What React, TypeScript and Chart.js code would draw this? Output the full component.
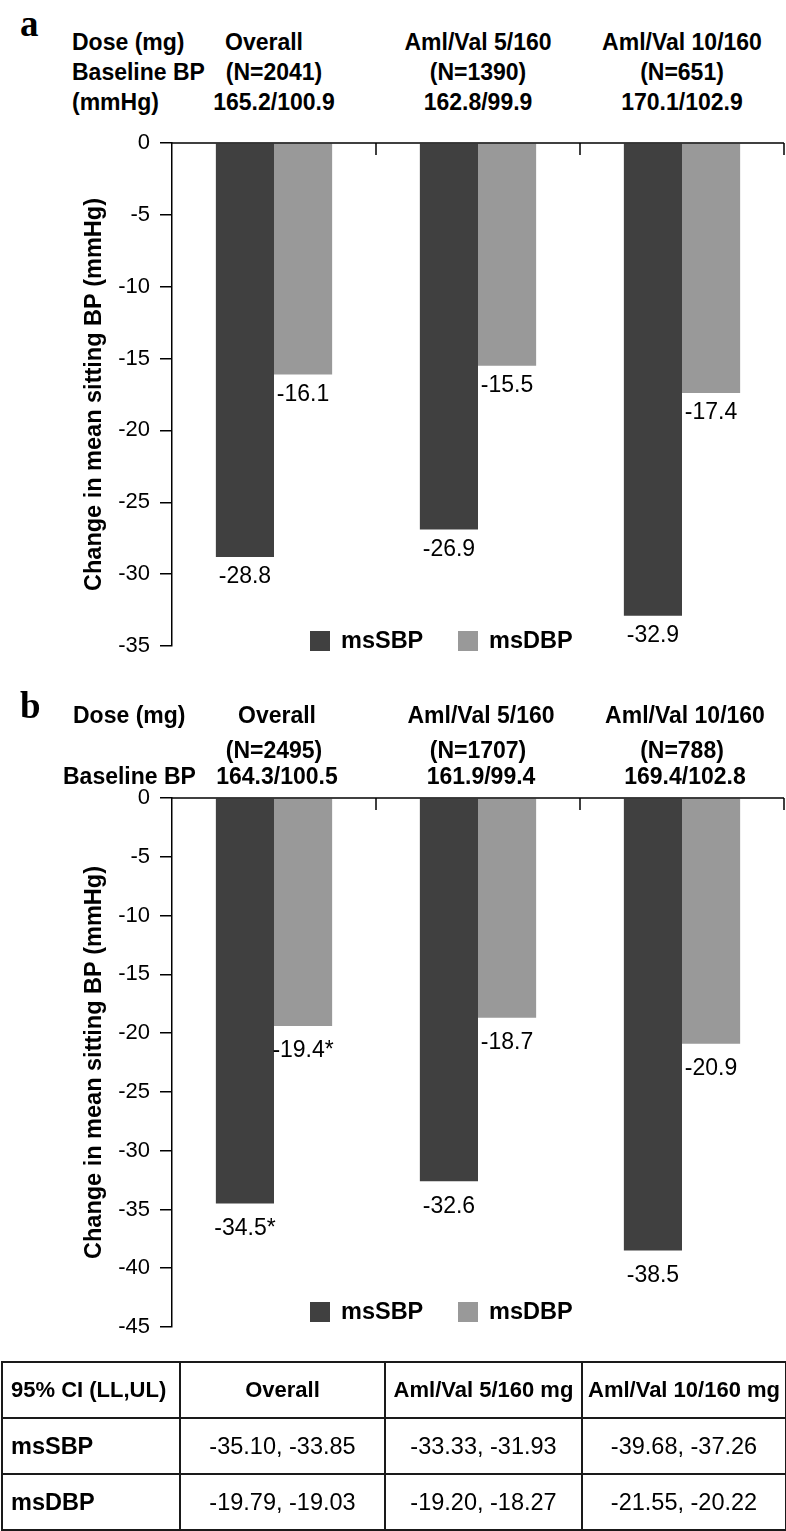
import React, { useEffect, useRef } from "react";
import { Chart, registerables } from "chart.js";

Chart.register(...registerables);

// ---------- data ----------
const categories = ["Overall", "Aml/Val 5/160", "Aml/Val 10/160"];
const seriesNames = ["msSBP", "msDBP"];
const seriesColors = ["#404040", "#999999"];

const sbpA = [-28.8, -26.9, -32.9];
const dbpA = [-16.1, -15.5, -17.4];
const sbpLabelsA = ["-28.8", "-26.9", "-32.9"];
const dbpLabelsA = ["-16.1", "-15.5", "-17.4"];
const nA = ["(N=2041)", "(N=1390)", "(N=651)"];
const baselineA = ["165.2/100.9", "162.8/99.9", "170.1/102.9"];
const yMinA = -35;

const sbpB = [-34.5, -32.6, -38.5];
const dbpB = [-19.4, -18.7, -20.9];
const sbpLabelsB = ["-34.5*", "-32.6", "-38.5"];
const dbpLabelsB = ["-19.4*", "-18.7", "-20.9"];
const nB = ["(N=2495)", "(N=1707)", "(N=788)"];
const baselineB = ["164.3/100.5", "161.9/99.4", "169.4/102.8"];
const yMinB = -45;

const yStep = 5;
const yTitle = "Change in mean sitting BP (mmHg)";

const tableHeader = ["95% CI (LL,UL)", "Overall", "Aml/Val 5/160 mg", "Aml/Val 10/160 mg"];
const ciSBP = ["-35.10, -33.85", "-33.33, -31.93", "-39.68, -37.26"];
const ciDBP = ["-19.79, -19.03", "-19.20, -18.27", "-21.55, -20.22"];

// ---------- layout ----------
const FONT = '"Liberation Sans", Arial, Helvetica, sans-serif';
const W = 786;
const PLOT_LEFT = 172;
const PLOT_RIGHT = 784;
const catCenter = (i: number) =>
  PLOT_LEFT + ((PLOT_RIGHT - PLOT_LEFT) / categories.length) * (i + 0.5);

const overlayPlugin = {
  id: "overlay",
  afterDatasetsDraw(chart: any, _args: any, opts: any) {
    const { ctx, chartArea } = chart;
    const xs = chart.scales.x;
    const ys = chart.scales.y;
    const y0 = ys.getPixelForValue(0);
    ctx.save();
    ctx.strokeStyle = "#000";
    ctx.lineWidth = 1.5;
    ctx.beginPath();
    ctx.moveTo(chartArea.left, y0);
    ctx.lineTo(chartArea.right, y0);
    ctx.stroke();
    for (let i = 0; i < chart.data.labels.length; i++) {
      const px = xs.getPixelForValue(i + 0.5);
      ctx.beginPath();
      ctx.moveTo(px, y0);
      ctx.lineTo(px, y0 + 12);
      ctx.stroke();
    }
    // value labels
    ctx.fillStyle = "#000";
    ctx.font = `23px ${FONT}`;
    ctx.textAlign = "center";
    ctx.textBaseline = "middle";
    chart.data.datasets.forEach((ds: any, di: number) => {
      const meta = chart.getDatasetMeta(di);
      meta.data.forEach((bar: any, i: number) => {
        ctx.fillText(ds.valueLabels[i], bar.x, bar.y + opts.labelOffset);
      });
    });
    // legend
    ctx.font = `bold 23.5px ${FONT}`;
    ctx.textAlign = "left";
    let lx = opts.legendX;
    chart.data.datasets.forEach((ds: any) => {
      ctx.fillStyle = ds.backgroundColor;
      ctx.fillRect(lx, opts.legendY - 10, 20, 20);
      ctx.fillStyle = "#000";
      ctx.fillText(ds.label, lx + 31, opts.legendY + 1);
      lx += 148;
    });
    ctx.restore();
  },
};

type PanelProps = {
  top: number;
  height: number;
  plotTop: number;
  plotBottom: number;
  yMin: number;
  sbp: number[];
  dbp: number[];
  sbpLabels: string[];
  dbpLabels: string[];
  labelOffset: number;
  legendY: number;
};

function BarPanel(p: PanelProps) {
  const ref = useRef<HTMLCanvasElement>(null);
  useEffect(() => {
    const canvas = ref.current!;
    const chart = new Chart(canvas, {
      type: "bar",
      data: {
        labels: categories,
        datasets: [
          {
            label: seriesNames[0],
            data: p.sbp,
            backgroundColor: seriesColors[0],
            valueLabels: p.sbpLabels,
          } as any,
          {
            label: seriesNames[1],
            data: p.dbp,
            backgroundColor: seriesColors[1],
            valueLabels: p.dbpLabels,
          } as any,
        ],
      },
      options: {
        responsive: false,
        animation: false,
        layout: {
          padding: {
            top: p.plotTop,
            bottom: p.height - p.plotBottom,
            left: 0,
            right: W - PLOT_RIGHT,
          },
        },
        datasets: {
          bar: { categoryPercentage: 0.57, barPercentage: 1.0 },
        },
        plugins: {
          legend: { display: false },
          tooltip: { enabled: false },
          overlay: {
            labelOffset: p.labelOffset,
            legendY: p.legendY,
            legendX: 310,
          },
        } as any,
        scales: {
          x: { display: false, offset: true },
          y: {
            min: p.yMin,
            max: 0,
            ticks: {
              stepSize: yStep,
              color: "#000",
              padding: 10,
              font: { family: FONT, size: 22 },
            },
            grid: {
              drawOnChartArea: false,
              drawTicks: true,
              tickLength: 12,
              color: "#000",
              lineWidth: 1.5,
            },
            border: { display: true, color: "#000", width: 1.5 },
            title: {
              display: true,
              text: yTitle,
              color: "#000",
              font: { family: FONT, size: 23.5, weight: "bold" },
              padding: { top: 80, bottom: 0 },
            },
            afterFit: (s: any) => {
              s.width = PLOT_LEFT;
            },
          },
        },
      },
      plugins: [overlayPlugin],
    });
    return () => chart.destroy();
  }, []);
  return (
    <canvas
      ref={ref}
      width={W}
      height={p.height}
      style={{ position: "absolute", left: 0, top: p.top, width: W, height: p.height }}
    />
  );
}

const hdrStyle = (cy: number, size = 23): React.CSSProperties => ({
  position: "absolute",
  top: cy - size / 2,
  height: size,
  lineHeight: `${size}px`,
  fontSize: size,
  fontWeight: "bold",
  fontFamily: FONT,
  whiteSpace: "nowrap",
  color: "#000",
});

function LeftText({ x, cy, text }: { x: number; cy: number; text: string }) {
  return <div style={{ ...hdrStyle(cy), left: x }}>{text}</div>;
}
function CenterText({ cx, cy, text }: { cx: number; cy: number; text: string }) {
  return (
    <div style={{ ...hdrStyle(cy), left: cx - 150, width: 300, textAlign: "center" }}>{text}</div>
  );
}

export default function App() {
  const cellBorder = "2px solid #1a1a1a";
  const td = (bold: boolean, size: number, align: "left" | "center"): React.CSSProperties => ({
    border: cellBorder,
    fontWeight: bold ? "bold" : "normal",
    fontSize: size,
    fontFamily: FONT,
    textAlign: align,
    paddingLeft: align === "left" ? 8 : 0,
    paddingRight: 0,
    paddingTop: 0,
    paddingBottom: 0,
    whiteSpace: "nowrap",
    color: "#000",
  });
  const panelLetter = (top: number): React.CSSProperties => ({
    position: "absolute",
    left: 20,
    top,
    fontFamily: '"Liberation Serif", "Times New Roman", serif',
    fontWeight: "bold",
    fontSize: 37,
    lineHeight: "37px",
  });
  return (
    <div
      style={{
        position: "absolute",
        left: 0,
        top: 0,
        width: W,
        height: 1531,
        background: "#fff",
        overflow: "hidden",
      }}
    >
      {/* panel a header */}
      <div style={panelLetter(5)}>a</div>
      <LeftText x={72} cy={42} text="Dose (mg)" />
      <LeftText x={72} cy={72} text="Baseline BP" />
      <LeftText x={72} cy={102} text="(mmHg)" />
      {categories.map((c, i) => (
        <CenterText key={"ca" + i} cx={catCenter(i) + (i === 0 ? -10 : 0)} cy={42} text={c} />
      ))}
      {nA.map((c, i) => (
        <CenterText key={"na" + i} cx={catCenter(i)} cy={72} text={c} />
      ))}
      {baselineA.map((c, i) => (
        <CenterText key={"ba" + i} cx={catCenter(i)} cy={102} text={c} />
      ))}

      <BarPanel
        top={0}
        height={690}
        plotTop={143}
        plotBottom={646}
        yMin={yMinA}
        sbp={sbpA}
        dbp={dbpA}
        sbpLabels={sbpLabelsA}
        dbpLabels={dbpLabelsA}
        labelOffset={20}
        legendY={641}
      />

      {/* panel b header */}
      <div style={panelLetter(687)}>b</div>
      <LeftText x={73} cy={715} text="Dose (mg)" />
      <LeftText x={63} cy={776} text="Baseline BP" />
      {categories.map((c, i) => (
        <CenterText key={"cb" + i} cx={catCenter(i) + 3} cy={715} text={c} />
      ))}
      {nB.map((c, i) => (
        <CenterText key={"nb" + i} cx={catCenter(i)} cy={750} text={c} />
      ))}
      {baselineB.map((c, i) => (
        <CenterText key={"bb" + i} cx={catCenter(i) + 3} cy={776} text={c} />
      ))}

      <BarPanel
        top={690}
        height={670}
        plotTop={108}
        plotBottom={637}
        yMin={yMinB}
        sbp={sbpB}
        dbp={dbpB}
        sbpLabels={sbpLabelsB}
        dbpLabels={dbpLabelsB}
        labelOffset={25}
        legendY={622}
      />

      {/* CI table */}
      <table
        style={{
          position: "absolute",
          left: 1,
          top: 1361,
          width: 784,
          borderCollapse: "collapse",
          tableLayout: "fixed",
        }}
      >
        <colgroup>
          <col style={{ width: 178 }} />
          <col style={{ width: 205 }} />
          <col style={{ width: 197 }} />
          <col style={{ width: 204 }} />
        </colgroup>
        <tbody>
          <tr style={{ height: 56 }}>
            {tableHeader.map((h, i) => (
              <td key={"h" + i} style={td(true, 22, i === 0 ? "left" : "center")}>
                {h}
              </td>
            ))}
          </tr>
          <tr style={{ height: 56 }}>
            <td style={td(true, 23.5, "left")}>{seriesNames[0]}</td>
            {ciSBP.map((v, i) => (
              <td key={"s" + i} style={td(false, 23.5, "center")}>
                {v}
              </td>
            ))}
          </tr>
          <tr style={{ height: 56 }}>
            <td style={td(true, 23.5, "left")}>{seriesNames[1]}</td>
            {ciDBP.map((v, i) => (
              <td key={"d" + i} style={td(false, 23.5, "center")}>
                {v}
              </td>
            ))}
          </tr>
        </tbody>
      </table>
    </div>
  );
}
